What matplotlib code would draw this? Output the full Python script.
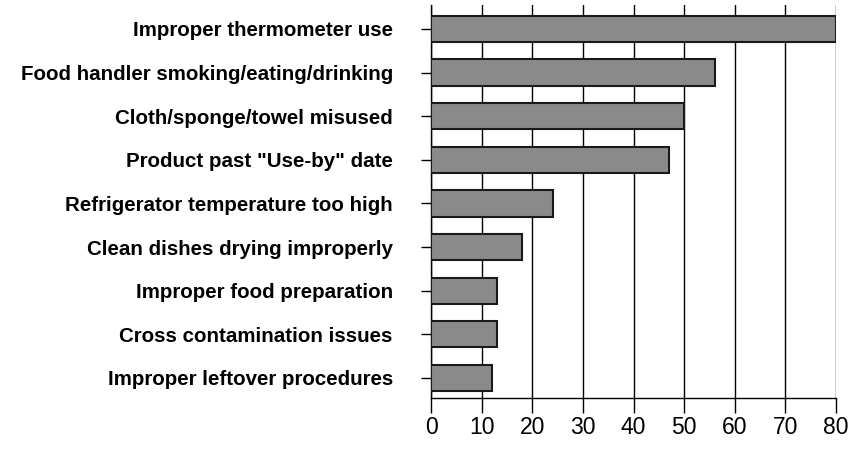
import matplotlib.pyplot as plt

categories = [
    "Improper thermometer use",
    "Food handler smoking/eating/drinking",
    "Cloth/sponge/towel misused",
    'Product past "Use-by" date',
    "Refrigerator temperature too high",
    "Clean dishes drying improperly",
    "Improper food preparation",
    "Cross contamination issues",
    "Improper leftover procedures",
]
values = [80, 56, 50, 47, 24, 18, 13, 13, 12]
xticks = [0, 10, 20, 30, 40, 50, 60, 70, 80]

plt.rcParams['font.family'] = ['Liberation Sans', 'DejaVu Sans']

fig = plt.figure(figsize=(8.51, 4.49), dpi=100)
ax = fig.add_axes([0.5065, 0.1136, 0.4759, 0.8754])

n = len(categories)
ypos = list(range(n - 1, -1, -1))
ax.barh(ypos, values, height=0.6, color='#8a8a8a', edgecolor='#1a1a1a',
        linewidth=1.5, zorder=3)

ax.set_xlim(0, 80)
ax.set_ylim(-0.46, n - 0.45)
ax.set_xticks(xticks)
ax.set_xticklabels([str(t) for t in xticks], fontsize=16.5)
ax.set_yticks(ypos)
ax.set_yticklabels(categories, fontsize=14.8, fontweight='bold')

ax.grid(axis='x', color='black', linewidth=1, zorder=0)
ax.tick_params(axis='x', length=11, width=1, pad=2, color='black')
ax.tick_params(axis='y', length=7.5, width=1, pad=20, color='black')

for side in ['top', 'right']:
    ax.spines[side].set_visible(False)
for side in ['left', 'bottom']:
    ax.spines[side].set_linewidth(1)

fig.savefig('out.png', dpi=100)
